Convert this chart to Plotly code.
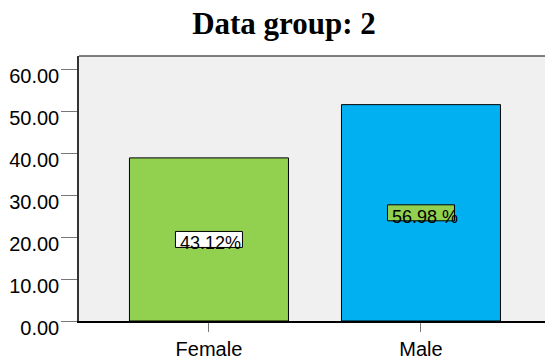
import plotly.graph_objects as go

# Bar values per gender and the share labels printed on each bar
categories = ["Female", "Male"]
values = [38.9, 51.6]
share_labels = ["43.12%", "56.98 %"]
bar_colors = ["#92D050", "#00B0F0"]
label_box_fills = ["#FFFFFF", "#92D050"]
y_ticks = [0, 10, 20, 30, 40, 50, 60]

fig = go.Figure()
fig.add_trace(go.Bar(
    x=categories,
    y=values,
    width=0.75,
    marker=dict(color=bar_colors, line=dict(color="#000000", width=1)),
    hoverinfo="skip",
))

# Share label boxes centred at half the bar height, text sitting slightly low
for i, (cat, v, txt, fill) in enumerate(zip(categories, values, share_labels, label_box_fills)):
    fig.add_shape(
        type="rect", xref="x", yref="y",
        xsizemode="pixel", ysizemode="pixel",
        xanchor=i, yanchor=v / 2,
        x0=-33.5, x1=33.5, y0=-8, y1=8,
        fillcolor=fill, line=dict(color="#000000", width=1),
        layer="above",
    )
    fig.add_annotation(
        x=cat, y=v / 2, xref="x", yref="y",
        text=txt, showarrow=False,
        xshift=2 if i == 0 else 4, yshift=-4,
        font=dict(family="Liberation Sans, Arial, sans-serif", size=18, color="#000000"),
    )

# Top border of the plot area
fig.add_shape(type="line", xref="paper", yref="paper", x0=0, x1=1, y0=1, y1=1,
              line=dict(color="#555555", width=1.5))

fig.update_layout(
    width=545, height=360,
    margin=dict(l=79, r=0, t=56, b=37),
    paper_bgcolor="#FFFFFF",
    plot_bgcolor="#F0F0F0",
    showlegend=False,
    title=dict(
        text="<b>Data group: 2</b>",
        x=284 / 545, xanchor="center",
        y=1 - 23 / 360, yanchor="middle",
        font=dict(family="Liberation Serif, Times New Roman, serif", size=31, color="#000000"),
    ),
    xaxis=dict(
        type="category",
        range=[-0.613, 1.585],
        showgrid=False, zeroline=False,
        showline=True, linecolor="#000000", linewidth=1.5,
        ticks="outside", ticklen=9, tickcolor="#777777", tickwidth=1,
        tickfont=dict(family="Liberation Sans, Arial, sans-serif", size=20, color="#000000"),
    ),
    yaxis=dict(
        range=[0, 63.2],
        tickvals=y_ticks,
        tickformat=".2f",
        showgrid=False, zeroline=False,
        showline=True, linecolor="#333333", linewidth=1.5,
        ticks="outside", ticklen=16, tickcolor="#777777", tickwidth=1,
        ticklabelshift=7,
        ticklabelstandoff=-2,
        tickfont=dict(family="Liberation Sans, Arial, sans-serif", size=20, color="#000000"),
    ),
)

fig.write_html("out.html")
